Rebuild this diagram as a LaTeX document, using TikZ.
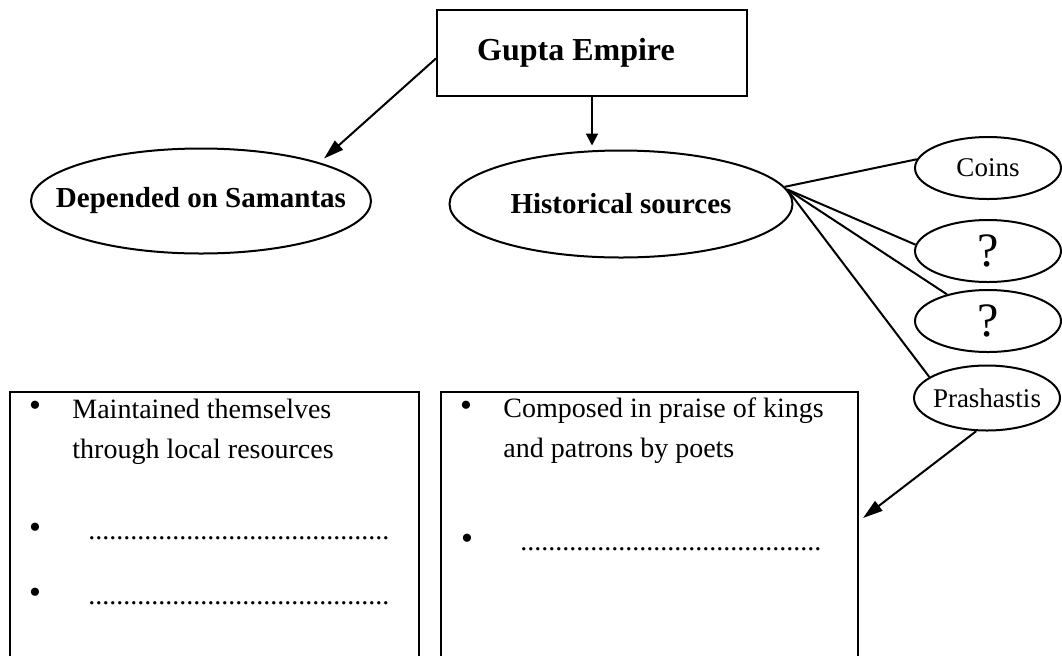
\documentclass[tikz,border=0pt]{standalone}
\usepackage{fontspec}
\setmainfont{Liberation Serif}
\usetikzlibrary{shapes.geometric, arrows.meta, positioning}

\newcommand{\fillindots}[1]{\hbox to #1{\leaders\hbox to 3.5pt{\hss.\hss}\hfill}}

\begin{document}
\begin{tikzpicture}[x=0.5pt, y=-0.5pt,
  bigoval/.style={draw, ellipse, line width=1pt, inner xsep=-16pt, inner ysep=0pt, font=\fontsize{14.5}{17}\selectfont\bfseries},
  smalloval/.style={draw, ellipse, line width=1pt, inner xsep=-5pt, inner ysep=0pt, minimum width=73pt, minimum height=31pt, font=\fontsize{13.5}{16}\selectfont},
  notebox/.style={draw, rectangle, line width=1pt, inner sep=0pt, minimum height=150pt},
  bodytext/.style={font=\fontsize{14}{20}\selectfont, inner sep=0pt},
  dotmark/.style={font=\fontsize{17}{20}\selectfont, inner sep=0pt},
  link/.style={line width=1pt},
  pointer/.style={line width=1pt, -{Triangle[length=10pt, width=6pt]}}]

  \useasboundingbox (0,0) rectangle (1062,655);
  \clip (0,0) rectangle (1062,655);

  % Top box
  \node[draw, line width=1pt, minimum width=155pt, minimum height=43pt, inner sep=0pt, font=\fontsize{16}{19}\selectfont\bfseries] (gupta) at (592,53) {Gupta Empire\hspace*{16pt}};

  % Second row
  \node[bigoval, minimum width=170pt, minimum height=52.5pt] (samantas) at (201,201) {Depended on Samantas};
  \node[bigoval, minimum width=171.5pt, minimum height=53.5pt] (sources) at (621,204) {Historical sources};

  % Kinds of sources
  \node[smalloval] (coins) at (988,168) {Coins};
  \node[smalloval, font=\fontsize{24}{28}\selectfont] (qone) at (988,251) {?};
  \node[smalloval, font=\fontsize{24}{28}\selectfont] (qtwo) at (988,321) {?};
  \node[smalloval, minimum height=32.5pt] (prash) at (987,398) {Prashastis};

  % Answer boxes
  \node[notebox, minimum width=204.5pt] (leftbox) at (214.5,542) {};
  \node[notebox, minimum width=208.5pt] (rightbox) at (649.5,542) {};

  % Left box text
  \node[dotmark] (lbulone) at (35,409) {\textbullet};
  \node[bodytext, anchor=base west, align=left] (ltext) at (72,458) {Maintained themselves\\through local resources};
  \node[dotmark] (lbultwo) at (35,531) {\textbullet};
  \node[bodytext, anchor=base west] (ldotsone) at (88,539) {\fillindots{152.5pt}};
  \node[dotmark] (lbulthree) at (35,596) {\textbullet};
  \node[bodytext, anchor=base west] (ldotstwo) at (88,604) {\fillindots{152.5pt}};

  % Right box text
  \node[dotmark] (rbulone) at (466,409) {\textbullet};
  \node[bodytext, anchor=base west, align=left] (rtext) at (503,457) {Composed in praise of kings\\and patrons by poets};
  \node[dotmark] (rbultwo) at (467,542) {\textbullet};
  \node[bodytext, anchor=base west] (rdots) at (520,550) {\fillindots{151.5pt}};

  % Connectors
  \draw[pointer, shorten >=3pt] (gupta.182) -- (samantas.18);
  \draw[line width=1pt, -{Triangle[length=6pt, width=6pt]}, shorten >=2pt] (gupta.south) -- (gupta.south |- sources.north);
  \draw[link] (sources.6) -- (coins.173);
  \draw[link] (sources.5) -- (qone.175);
  \draw[link] (sources.5) -- (qtwo.147);
  \draw[link] (sources.5) -- (prash.160);
  \coordinate (rtip) at (863,518);
  \draw[pointer] (prash.252) -- (rtip);
\end{tikzpicture}
\end{document}
